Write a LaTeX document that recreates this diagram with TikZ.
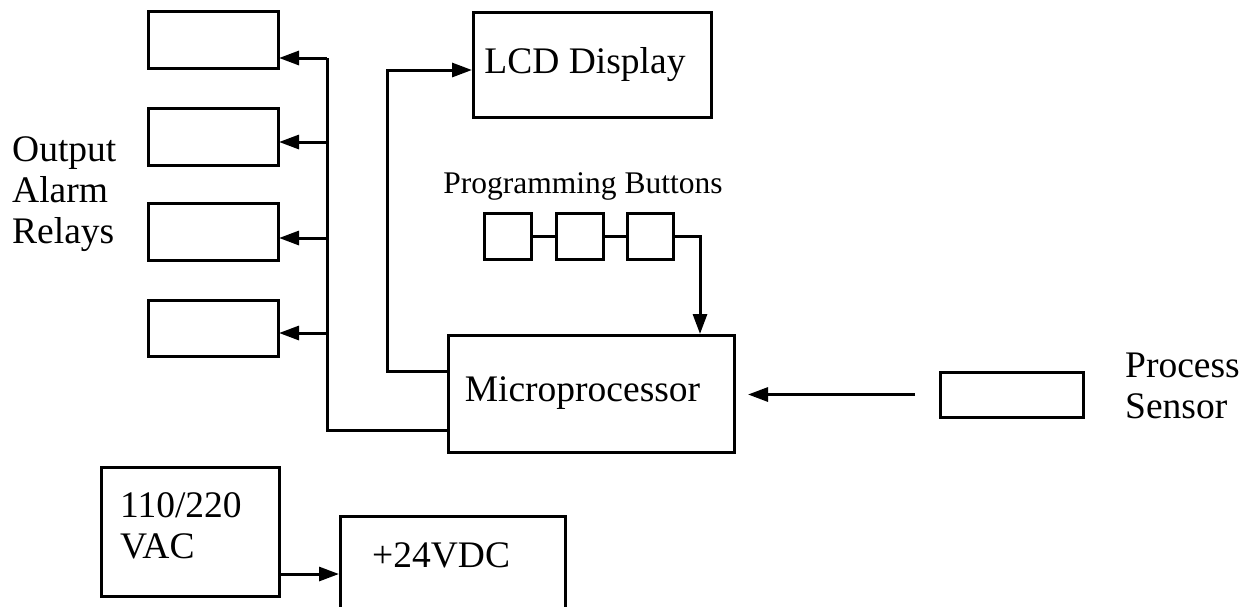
\documentclass[tikz,border=0pt]{standalone}
\usepackage{fontspec}
\setmainfont{Liberation Serif}
\usetikzlibrary{arrows.meta}
\begin{document}
\begin{tikzpicture}[x=1pt,y=-1pt,
  box/.style={draw, line width=3pt, inner sep=0pt, outer sep=0pt},
  ln/.style={line width=3pt},
  arr/.style={line width=3pt, -{Triangle[length=20pt,width=14pt]}, shorten >=1pt},
  big/.style={font=\fontsize{37.5}{41}\selectfont, inner sep=0pt},
  small/.style={font=\fontsize{31.5}{35}\selectfont, inner sep=0pt}]
\useasboundingbox (0,0) rectangle (1246,606);

% relay boxes
\node[box, minimum width=130pt, minimum height=57pt] (r1) at (213,39.5) {};
\node[box, minimum width=130pt, minimum height=57pt] (r2) at (213,136.5) {};
\node[box, minimum width=130pt, minimum height=57pt] (r3) at (213,231.5) {};
\node[box, minimum width=130pt, minimum height=56pt] (r4) at (213,328) {};
\node[big, align=left, anchor=base west] (rl) at (12,243) {Output\\Alarm\\Relays};

% LCD
\node[box, minimum width=238pt, minimum height=105pt,
      label={[big, xshift=-7pt]center:LCD Display}] (lcd) at (592,64.5) {};

% microprocessor
\node[box, minimum width=286pt, minimum height=117pt,
      label={[big, xshift=-8.5pt]center:Microprocessor}] (mp) at (591,393.5) {};

% buttons
\node[box, minimum width=47pt, minimum height=46pt] (p1) at (507.5,236.5) {};
\node[box, minimum width=47pt, minimum height=46pt] (p2) at (579.5,236.5) {};
\node[box, minimum width=46pt, minimum height=46pt] (p3) at (650,236.5) {};
\node[small, anchor=base] (pl) at (583,193) {Programming Buttons};

% sensor
\node[box, minimum width=143pt, minimum height=45pt] (sen) at (1011.5,394.5) {};
\node[big, align=left, anchor=base west] (sl) at (1125,418) {Process\\Sensor};

% power
\node[box, minimum width=178pt, minimum height=129pt] (vac) at (190,531.5) {};
\node[big, align=left, anchor=base west] (vl) at (120,558) {110/220\\VAC};
\node[box, minimum width=225pt, minimum height=124pt] (dc) at (452.5,578) {};
\node[big, anchor=base west] (dl) at (372,567) {+24VDC};

% bus to relays
\coordinate (t1) at (327,58);
\coordinate (t2) at (327,142);
\coordinate (t3) at (327,238);
\coordinate (t4) at (327,333);
\coordinate (tb) at (327,430);
\draw[ln] (t1) -- (tb) -- (tb -| mp.west);
\foreach \i/\r in {1/r1,2/r2,3/r3,4/r4}
  \draw[arr] (t\i) -- (t\i -| \r.east);

% to LCD
\coordinate (k1) at (387,371);
\coordinate (k2) at (387,70);
\draw[arr] (k1 -| mp.west) -- (k1) -- (k2) -- (k2 -| lcd.west);

% buttons
\draw[ln] (p1.east) -- (p2.west);
\draw[ln] (p2.east) -- (p3.west);
\coordinate (k3) at (700,236.5);
\draw[arr] (p3.east) -- (k3) -- (k3 |- mp.north);

% sensor
\draw[arr, shorten <=25pt, shorten >=14pt] (sen.west) -- (sen.west -| mp.east);

% power
\coordinate (k4) at (279,574);
\draw[arr] (k4 -| vac.east) -- (k4 -| dc.west);
\end{tikzpicture}
\end{document}
